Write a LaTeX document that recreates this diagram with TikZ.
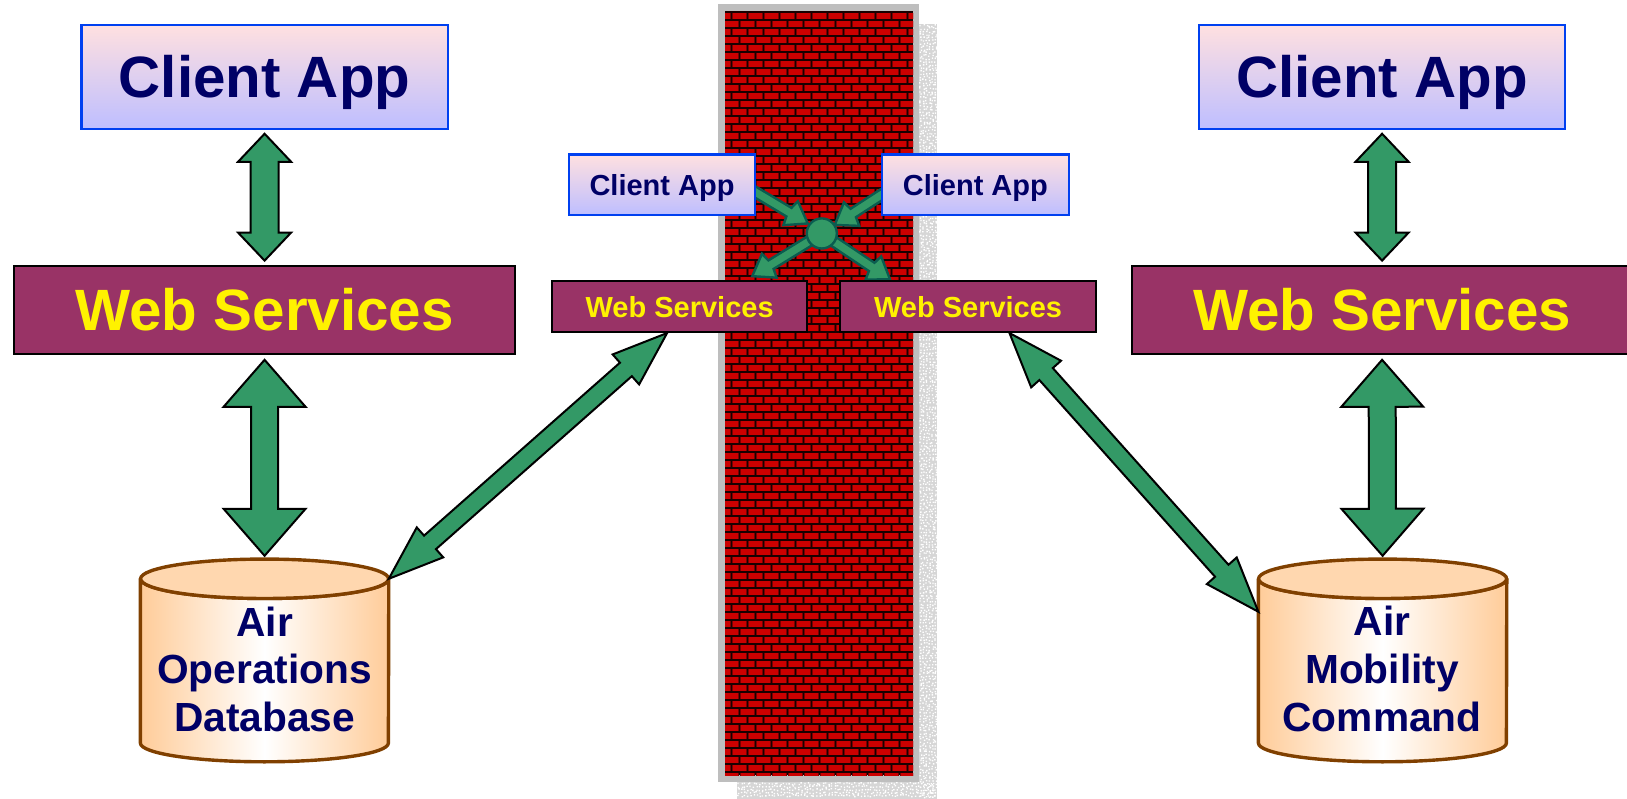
\documentclass[tikz,border=0pt]{standalone}
\usepackage{fontspec}
\setmainfont{Liberation Sans}
\usetikzlibrary{calc}
\pgfdeclarelayer{wall}
\pgfdeclarelayer{under}
\pgfsetlayers{wall,under,main}
\definecolor{navy}{HTML}{000066}
\definecolor{wsfill}{HTML}{993366}
\definecolor{arrowgreen}{HTML}{339966}
\definecolor{arrowedge}{HTML}{0A5C50}
\definecolor{appedge}{HTML}{0040F0}
\definecolor{apptop}{HTML}{FFE0E0}
\definecolor{appbot}{HTML}{BEBEFF}
\definecolor{peach}{HTML}{FFCC99}
\definecolor{peachtop}{HTML}{FFD7AF}
\definecolor{cylbrown}{HTML}{804000}
\definecolor{brickred}{HTML}{CC0000}
\definecolor{brickdark}{HTML}{7A0000}
\definecolor{wallgray}{HTML}{BEBEBE}
\definecolor{shadowgray}{HTML}{D6D6D6}
\def\u{1.0376pt}
\tikzset{
  appbox/.style={draw=appedge,line width=2.2pt,top color=apptop,bottom color=appbot,inner sep=0pt,text=navy,text depth=0pt},
  bigapp/.style={appbox,minimum width=353*\u,minimum height=100*\u,font=\fontsize{58.3}{60}\selectfont\bfseries},
  smallapp/.style={appbox,minimum width=180*\u,minimum height=58*\u,font=\fontsize{29}{31}\selectfont\bfseries},
  wsbox/.style={draw=black,line width=2pt,fill=wsfill,inner sep=0pt,text=yellow},
  bigws/.style={wsbox,minimum width=483*\u,minimum height=85*\u,text depth=-1.5pt,font=\fontsize{58.3}{60}\selectfont\bfseries},
  smallws/.style={wsbox,minimum width=246*\u,minimum height=49*\u,text depth=-2pt,font=\fontsize{29}{31}\selectfont\bfseries},
  blockstyle/.style={draw=black,line width=2pt,fill=arrowgreen,line join=miter},
  ptrstyle/.style={draw=arrowedge,line width=2.4pt,fill=arrowgreen,line join=miter,miter limit=4},
  hubdot/.style={circle,draw=arrowedge,line width=2.4pt,fill=arrowgreen,minimum size=29*\u,inner sep=0pt},
  cylbox/.style={rectangle,minimum width=239*\u,minimum height=158*\u,inner sep=0pt},
  cyltext/.style={align=center,text=navy,font=\fontsize{40.7}{47.8}\selectfont\bfseries},
}
% a b shaft-half head-half head-length (all in pt)
\newcommand\blockarrow[5]{%
  \coordinate (Ax) at (#1); \coordinate (Bx) at (#2);
  \coordinate (Ah) at ($(Ax)!#5pt!(Bx)$); \coordinate (Bh) at ($(Bx)!#5pt!(Ax)$);
  \draw[blockstyle] (Ax) -- ($(Ah)!#4pt!90:(Bx)$) -- ($(Ah)!#3pt!90:(Bx)$)
    -- ($(Bh)!#3pt!-90:(Ax)$) -- ($(Bh)!#4pt!-90:(Ax)$) -- (Bx)
    -- ($(Bh)!#4pt!90:(Ax)$) -- ($(Bh)!#3pt!90:(Ax)$)
    -- ($(Ah)!#3pt!-90:(Bx)$) -- ($(Ah)!#4pt!-90:(Bx)$) -- cycle;}
% tail tip shaft-half head-half barb-length neck-length
\newcommand\pointer[6]{%
  \coordinate (Ax) at (#1); \coordinate (Bx) at (#2);
  \coordinate (Bb) at ($(Bx)!#5pt!(Ax)$); \coordinate (Bn) at ($(Bx)!#6pt!(Ax)$);
  \draw[ptrstyle] ($(Ax)!#3pt!90:(Bx)$) -- ($(Bn)!#3pt!-90:(Ax)$) -- ($(Bb)!#4pt!-90:(Ax)$) -- (Bx)
    -- ($(Bb)!#4pt!90:(Ax)$) -- ($(Bn)!#3pt!90:(Ax)$) -- ($(Ax)!#3pt!-90:(Bx)$) -- cycle;}
\newcommand\cylbody[1]{%
  \path[left color=peach,right color=peach,middle color=white,draw=cylbrown,line width=3.4pt,line join=round]
    (#1.north west) -- (#1.south west) arc[start angle=180,end angle=360,x radius=119.5*\u,y radius=18*\u]
    -- (#1.north east) arc[start angle=0,end angle=-180,x radius=119.5*\u,y radius=19*\u] -- cycle;
  \draw[fill=peachtop,draw=cylbrown,line width=3.4pt]
    ($(#1.north west)!0.5!(#1.north east)$) ellipse[x radius=119.5*\u,y radius=19*\u];}
\begin{document}
\begin{tikzpicture}[x=1pt,y=-1pt]
\useasboundingbox (0,0) rectangle (1627,799);
\begin{pgfonlayer}{wall}
\fill[shadowgray] (737,24) rectangle (937,799);
\pgfmathsetseed{7}
\fill[white] foreach \x in {919,922,...,934}{ foreach \y in {24,27,...,796}{
    ({\x+2*rnd},{\y+2*rnd}) rectangle ++(1.4,1.4) } };
\fill[white] foreach \x in {737,740,...,934}{ foreach \y in {782,785,...,796}{
    ({\x+2*rnd},{\y+2*rnd}) rectangle ++(1.4,1.4) } };
\fill[wallgray] (718,4) rectangle (919,782);
\begin{scope}
\clip (725,11) rectangle (913,775);
\fill[black!90!red] (725,11) rectangle (913,775);
\foreach \r in {0,2,...,96}{
  \foreach \c in {-1,...,11}{
    \fill[brickdark] ({733+16*\c-0.6},{12.6+8*\r}) rectangle ++(14.6,6.8);
    \fill[brickred] ({733+16*\c+0.4},{13.4+8*\r}) rectangle ++(12.6,5.2);
    \fill[brickdark] ({741+16*\c-0.6},{20.6+8*\r}) rectangle ++(14.6,6.8);
    \fill[brickred] ({741+16*\c+0.4},{21.4+8*\r}) rectangle ++(12.6,5.2);
  }}
\end{scope}
\end{pgfonlayer}
\begin{scope}[x=1.0376pt,y=-1.0376pt]
\node[hubdot] (hub) at (792,225) {};
\node[smallapp] (c3) at (638,178) {Client App};
\node[smallapp] (c4) at (940,178) {Client App};
\node[smallws] (w3) at (655,295.5) {Web Services};
\node[smallws] (w4) at (933,295.5) {Web Services};
\node[bigapp] (c1) at (255,74) {Client App};
\node[bigapp] (c2) at (1332,74) {Client App};
\node[bigws] (w1) at (255,298.5) {Web Services};
\node[bigws] (w2) at (1332,298.5) {Web Services};
\node[cylbox] (d1) at (255,637) {};
\node[cylbox] (d2) at (1332.5,637) {};
\cylbody{d1}
\cylbody{d2}
\node[cyltext] (t1) at (255,645) {Air\\Operations\\Database};
\node[cyltext] (t2) at (1332,644.5) {Air\\Mobility\\Command};
\begin{pgfonlayer}{under}
\pointer{[xshift=-3.4pt,yshift=-6pt]c3.east}{[xshift=-14pt,yshift=10pt]hub.center}{5}{14}{20}{22}
\pointer{[xshift=4pt,yshift=-7.8pt]c4.west}{[xshift=13pt,yshift=8.5pt]hub.center}{5}{14}{20}{22}
\pointer{hub.center}{[xshift=-56pt,yshift=4pt]w3.north east}{5}{14}{20}{22}
\pointer{hub.center}{[xshift=50.5pt,yshift=1pt]w4.north west}{5}{14}{20}{22}
\end{pgfonlayer}
\blockarrow{[yshift=-4pt]c1.south}{[yshift=4pt]w1.north}{14}{26.5}{28}
\blockarrow{[yshift=-4pt]c2.south}{[yshift=4pt]w2.north}{14}{26.5}{28}
\blockarrow{[yshift=-5pt]w1.south}{[yshift=23pt]d1.north}{13.5}{41}{47}
\blockarrow{[yshift=-5pt]w2.south}{[yshift=23pt]d2.north}{13.5}{41}{47}
\blockarrow{[xshift=-12.5pt]w3.south}{d1.north east}{9}{20}{55}
\blockarrow{[xshift=170pt]w4.south west}{[yshift=-33pt]d2.north west}{9}{20}{55}
\end{scope}
\end{tikzpicture}
\end{document}
